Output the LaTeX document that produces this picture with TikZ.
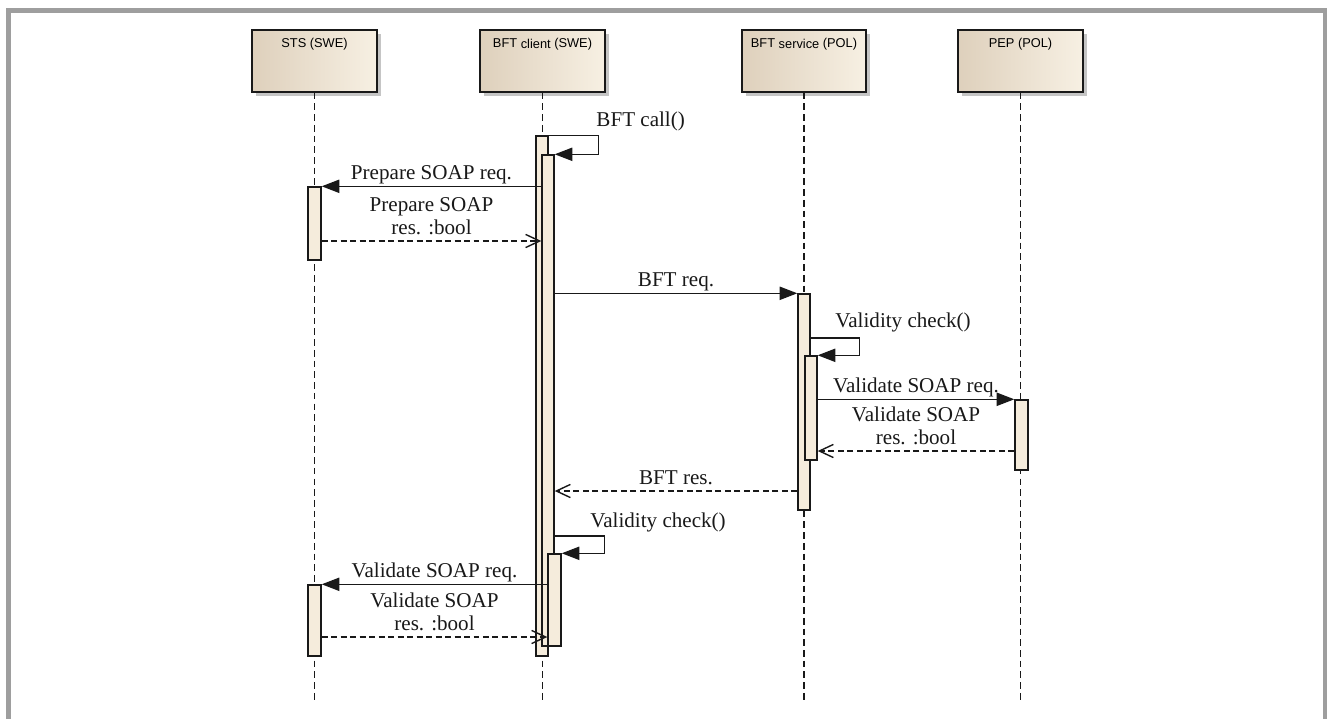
\documentclass[tikz,border=0pt]{standalone}
\usepackage{fontspec}
\setmainfont{Liberation Serif}
\setsansfont{Liberation Sans}
\usetikzlibrary{arrows.meta,fit,shadows}

\definecolor{framegray}{RGB}{158,158,158}
\definecolor{barfill}{RGB}{245,236,220}
\definecolor{headL}{RGB}{222,208,188}
\definecolor{headR}{RGB}{247,240,227}
\definecolor{ink}{RGB}{25,25,25}

\tikzset{
	head/.style={draw=ink, inner sep=0pt, left color=headL, right color=headR,
		drop shadow={shadow xshift=2pt, shadow yshift=-2pt, opacity=0.45}},
	headtxt/.style={font=\sffamily\fontsize{7.3}{8}\selectfont, anchor=north, inner sep=0pt, yshift=-4.5pt},
	bar/.style={draw=ink, fill=barfill, inner sep=0pt},
	lifeline/.style={draw=ink, dash pattern=on 3.8pt off 2.3pt},
	msg/.style={draw=ink, -{Triangle[length=10pt, width=7.5pt]}},
	ret/.style={draw=ink, dash pattern=on 3.4pt off 2pt, -{Straight Barb[length=8pt, width=7.5pt]}},
	lbl/.style={font=\fontsize{12}{13}\selectfont, inner sep=1pt, text depth=0.22em, align=center, text=ink},
}

\begin{document}
\begin{tikzpicture}[x=0.02cm, y=-0.02cm, line width=0.8pt]
	\fill[white] (0,0) rectangle (1327,719);
	\useasboundingbox (0,0) rectangle (1327,719);
	
	% frame
	\fill[framegray] (6,8) rectangle (11,719);
	\fill[framegray] (6,8) rectangle (1327,13);
	\fill[framegray] (1323,8) rectangle (1327,719);
	
	% lifeline heads
	\node[head, fit={(252,30) (377,92)}, label={[headtxt]north:STS (SWE)}] (sts) {};
	\node[head, fit={(480,30) (605,92)}, label={[headtxt]north:BFT \raisebox{-0.8pt}{client} (SWE)}] (client) {};
	\node[head, fit={(742,30) (866,92)}, label={[headtxt]north:BFT \raisebox{-0.8pt}{service} (POL)}] (service) {};
	\node[head, fit={(958,30) (1083,92)}, label={[headtxt]north:PEP (POL)}] (pep) {};
	
	\coordinate (stsEnd) at (314.5,702);
	\coordinate (clientEnd) at (542.5,702);
	\coordinate (serviceEnd) at (804,702);
	\coordinate (pepEnd) at (1020.5,702);
	
	\draw[lifeline] (sts) -- (stsEnd);
	\draw[lifeline] (client) -- (clientEnd);
	\draw[lifeline] (service) -- (serviceEnd);
	\draw[lifeline] (pep) -- (pepEnd);
	
	% activation bars
	\node[bar, fit={(308,187) (321,260)}] (stsA) {};
	\node[bar, fit={(308,585) (321,656)}] (stsB) {};
	\node[bar, fit={(536,136) (548,656)}] (cA) {};
	\node[bar, fit={(542,155) (554,646)}] (cB) {};
	\node[bar, fit={(548,554) (561,646)}] (cC) {};
	\node[bar, fit={(798,294) (810,510)}] (svA) {};
	\node[bar, fit={(805,356) (817,460)}] (svB) {};
	\node[bar, fit={(1015,400) (1028,470)}] (pepA) {};
	
	% messages
	\draw[msg] (cA.north east) -- ++(50,0) |- (cB.north east);
	\node[lbl, anchor=base west] (callLbl) at (594,127) {BFT call()};
	
	\draw[msg] (cB.west |- stsA.north) to node[lbl, above] (prepReq) {Prepare SOAP req.} (stsA.north east);
	\draw[ret] (stsA.east |- 0,241) to node[lbl, above] (prepRes) {Prepare SOAP\\res. :bool} (cB.west |- 0,241);
	
	\draw[msg] (cB.east |- svA.north) to node[lbl, above] (bftReq) {BFT req.} (svA.north west);
	
	\draw[msg] (svA.east |- 0,338) -- ++(49,0) |- (svB.north east);
	\node[lbl, anchor=base west] (chkLbl) at (833,327) {Validity check()};
	
	\draw[msg] (svB.east |- pepA.north) to node[lbl, above] (valReq) {Validate SOAP req.} (pepA.north west);
	\draw[ret] (pepA.west |- 0,451) to node[lbl, above] (valRes) {Validate SOAP\\res. :bool} (svB.east |- 0,451);
	
	\draw[ret] (svA.west |- 0,491) to node[lbl, above] (bftRes) {BFT res.} (cB.east |- 0,491);
	
	\draw[msg] (cB.east |- 0,536) -- ++(50,0) |- (cC.north east);
	\node[lbl, anchor=base west] (chkLbl2) at (588,527) {Validity check()};
	
	\draw[msg] (cC.west |- stsB.north) to node[lbl, above] (valReq2) {Validate SOAP req.} (stsB.north east);
	\draw[ret] (stsB.east |- 0,637) to node[lbl, above] (valRes2) {Validate SOAP\\res. :bool} (cC.west |- 0,637);
\end{tikzpicture}
\end{document}
